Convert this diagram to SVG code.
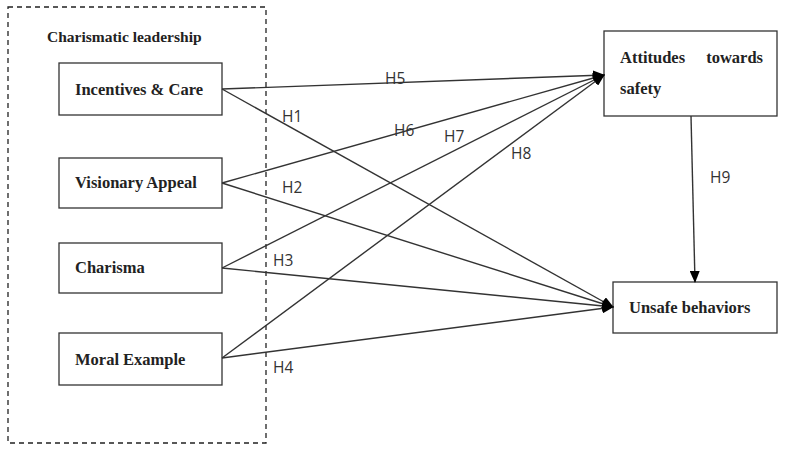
<svg xmlns="http://www.w3.org/2000/svg" width="787" height="460" viewBox="0 0 787 460">
<style>
.box{fill:#fff;stroke:#333;stroke-width:1.3}
.nt{font-family:"Liberation Serif",serif;font-weight:bold;font-size:16.5px;fill:#222}
.lbl{font-family:"Open Sans","Liberation Sans",sans-serif;font-size:15.5px;fill:#333}
.cn{stroke:#333;stroke-width:1.4;fill:none;marker-end:url(#ah)}
</style>
<defs>
<marker id="ah" markerWidth="12" markerHeight="10" refX="11" refY="5" orient="auto" markerUnits="userSpaceOnUse">
<path d="M0,0 L12,5 L0,10 Z" fill="#000"/>
</marker>
</defs>
<g id="group-charismatic">
<rect x="8" y="7" width="258" height="436" fill="none" stroke="#222" stroke-width="1.3" stroke-dasharray="5,4"/>
<text class="nt" x="47" y="42" style="font-size:15.5px">Charismatic leadership</text>
</g>
<g id="node-incentives">
<rect class="box" x="59" y="63" width="163" height="52"/>
<text class="nt" x="75" y="95">Incentives &amp; Care</text>
</g>
<g id="node-visionary">
<rect class="box" x="59" y="158" width="163" height="50"/>
<text class="nt" x="75" y="188">Visionary Appeal</text>
</g>
<g id="node-charisma">
<rect class="box" x="59" y="243" width="163" height="50"/>
<text class="nt" x="75" y="273">Charisma</text>
</g>
<g id="node-moral">
<rect class="box" x="59" y="333" width="163" height="52"/>
<text class="nt" x="75" y="365">Moral Example</text>
</g>
<g id="node-attitudes">
<rect class="box" x="604" y="31" width="173" height="85"/>
<text class="nt" x="620" y="63">Attitudes</text>
<text class="nt" x="763" y="63" text-anchor="end">towards</text>
<text class="nt" x="620" y="94">safety</text>
</g>
<g id="node-unsafe">
<rect class="box" x="613" y="282" width="164" height="51"/>
<text class="nt" x="629" y="313">Unsafe behaviors</text>
</g>
<g id="connectors">
<line class="cn" x1="222" y1="89" x2="604" y2="75"/>
<line class="cn" x1="222" y1="89" x2="613" y2="307"/>
<line class="cn" x1="222" y1="183" x2="604" y2="75"/>
<line class="cn" x1="222" y1="183" x2="613" y2="307"/>
<line class="cn" x1="222" y1="268" x2="604" y2="75"/>
<line class="cn" x1="222" y1="268" x2="613" y2="307"/>
<line class="cn" x1="222" y1="358" x2="604" y2="75"/>
<line class="cn" x1="222" y1="358" x2="613" y2="307"/>
<line class="cn" x1="691" y1="116" x2="695" y2="282"/>
<text class="lbl" x="385" y="84">H5</text>
<text class="lbl" x="282" y="122">H1</text>
<text class="lbl" x="394" y="136">H6</text>
<text class="lbl" x="444" y="142">H7</text>
<text class="lbl" x="511" y="159">H8</text>
<text class="lbl" x="282" y="193">H2</text>
<text class="lbl" x="273" y="266">H3</text>
<text class="lbl" x="273" y="373">H4</text>
<text class="lbl" x="710" y="183">H9</text>
</g>
</svg>
